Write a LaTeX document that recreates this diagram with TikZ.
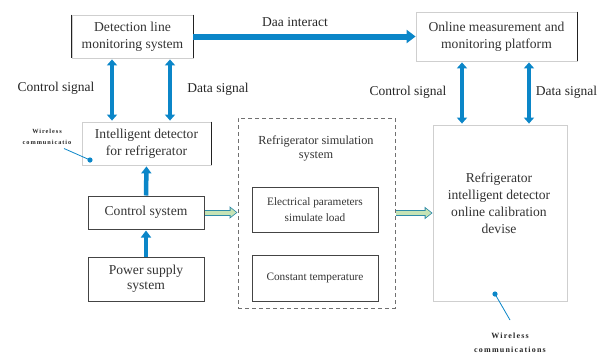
\documentclass[tikz,border=0pt]{standalone}
\usepackage{fontspec}
\setmainfont{Liberation Serif}
\newfontfamily\wirelessfont[LetterSpace=15]{Liberation Serif}
\usetikzlibrary{arrows.meta}
\definecolor{arrowblue}{HTML}{0B86C8}
\definecolor{greenfill}{HTML}{C6E3B5}
\definecolor{greenedge}{HTML}{2F8BA8}
\definecolor{lightedge}{HTML}{CFCFCF}
\definecolor{darkedge}{HTML}{222222}
\definecolor{boxedge}{HTML}{444444}
\definecolor{dashgray}{HTML}{707070}
\definecolor{textgray}{HTML}{333333}

\begin{document}
\begin{tikzpicture}[
  x=1pt,
  y=-1pt,
  every node/.style={
    align=center,
    inner sep=0pt,
    text=textgray
  },
  softbox/.style={
    rectangle,
    draw=lightedge,
    line width=0.8pt,
    font=\fontsize{13.6}{17}\selectfont
  },
  hardbox/.style={
    rectangle,
    draw=boxedge,
    line width=1pt,
    font=\fontsize{13.6}{15}\selectfont
  },
  innerbox/.style={
    rectangle,
    draw=boxedge,
    line width=1pt,
    font=\fontsize{11.3}{16}\selectfont
  },
  simframe/.style={
    rectangle,
    draw=dashgray,
    dash pattern=on 4pt off 3pt,
    line width=1pt
  },
  sidedge/.style={
    draw=darkedge,
    line width=1pt
  },
  siglabel/.style={
    font=\fontsize{13.5}{16}\selectfont,
    text=black!85
  },
  wirelabel/.style={
    text=black!85
  },
  signal/.style={
    {Triangle[length=6pt,width=10pt]}-{Triangle[length=6pt,width=10pt]},
    draw=arrowblue,
    line width=4.5pt,
    shorten >=1pt,
    shorten <=1pt
  },
  feed/.style={
    -{Triangle[length=7pt,width=10pt]},
    draw=arrowblue,
    line width=4.5pt,
    shorten >=1pt
  },
  interact/.style={
    -{Triangle[length=9pt,width=13pt]},
    draw=arrowblue,
    line width=6pt
  },
  loadouter/.style={
    -{Triangle[length=8pt,width=12pt]},
    draw=greenedge,
    line width=6pt
  },
  loadinner/.style={
    -{Triangle[length=5.5pt,width=8.5pt]},
    draw=greenfill,
    line width=4pt,
    shorten >=1.4pt,
    shorten <=0.6pt
  },
  wire/.style={
    draw=arrowblue,
    line width=0.8pt
  }
]

\useasboundingbox (0,0) rectangle (598,354);

% Top row
\node[softbox, minimum width=121pt, minimum height=43pt] (det) at (132.5,36.5)
  {Detection line\\monitoring system};
\node[softbox, minimum width=161pt, minimum height=49pt] (online) at (496.5,36.5)
  {Online measurement and\\monitoring platform};
\draw[sidedge] (det.north west) -- (det.south west);
\draw[sidedge] (det.north east) -- (det.south east);
\draw[sidedge] (online.north east) -- (online.south east);

% Left column
\node[softbox, minimum width=129pt, minimum height=43pt] (intel) at (146.5,143.5)
  {Intelligent detector\\for refrigerator};
\draw[sidedge] (intel.north east) -- (intel.south east);
\node[hardbox, minimum width=116pt, minimum height=33pt] (ctrl) at (146,212.5)
  {Control system};
\node[hardbox, minimum width=116pt, minimum height=44pt] (power) at (146,279)
  {Power supply\\system};

% Simulation system
\node[simframe, minimum width=157pt, minimum height=190pt] (sim) at (316.5,213) {};
\node[font=\fontsize{12.3}{14}\selectfont] (simtitle) at (316,148)
  {Refrigerator simulation\\system};
\node[innerbox, minimum width=126pt, minimum height=45pt] (elec) at (315,209.5)
  {Electrical parameters\\simulate load};
\node[innerbox, minimum width=126pt, minimum height=46pt] (const) at (315,278)
  {Constant temperature};

% Calibration device
\node[softbox, minimum width=134pt, minimum height=176pt] (calib) at (500,213) {};
\node[font=\fontsize{13.6}{17}\selectfont] (calibtext) at (499,203.5)
  {Refrigerator\\intelligent detector\\online calibration\\devise};

% Signal links
\draw[interact] (det.east) -- (online.west);
\node[siglabel] (interactlabel) at (295,22) {Daa interact};

\draw[signal] ([xshift=-20.5pt]det.south) -- ([xshift=-20.5pt]det.south |- intel.north);
\draw[signal] ([xshift=37.5pt]det.south) -- ([xshift=37.5pt]det.south |- intel.north);
\node[siglabel] (ctrllabelL) at (56,88) {Control signal};
\node[siglabel] (datalabelL) at (218,89) {Data signal};

\draw[signal] ([xshift=-34.5pt]online.south) -- ([xshift=-34.5pt]online.south |- calib.north);
\draw[signal] ([xshift=32.5pt]online.south) -- ([xshift=32.5pt]online.south |- calib.north);
\node[siglabel] (ctrllabelR) at (408,92) {Control signal};
\node[siglabel] (datalabelR) at (566.5,92) {Data signal};

\draw[feed] (ctrl.north) -- (intel.south);
\draw[feed] (power.north) -- (ctrl.south);

% Load links
\draw[loadouter] (ctrl.east) -- (ctrl.east -| sim.west);
\draw[loadinner] (ctrl.east) -- (ctrl.east -| sim.west);
\draw[loadouter] (sim.east) -- (calib.west);
\draw[loadinner] (sim.east) -- (calib.west);

% Wireless marks
\node[wirelabel, font=\wirelessfont\bfseries\fontsize{6.3}{11}\selectfont] (wireL) at (47,136.5)
  {Wireless\\communicatio};
\coordinate (wireLend) at (64,148.5);
\fill[arrowblue] (90,160) circle (2.6pt) coordinate (dotL);
\draw[wire] (wireLend) -- (dotL);

\node[wirelabel, font=\wirelessfont\bfseries\fontsize{8}{14}\selectfont] (wireB) at (510,343)
  {Wireless\\communications};
\coordinate (wireBend) at (510,320);
\fill[arrowblue] (495,294) circle (2.6pt) coordinate (dotB);
\draw[wire] (dotB) -- (wireBend);

\end{tikzpicture}
\end{document}
